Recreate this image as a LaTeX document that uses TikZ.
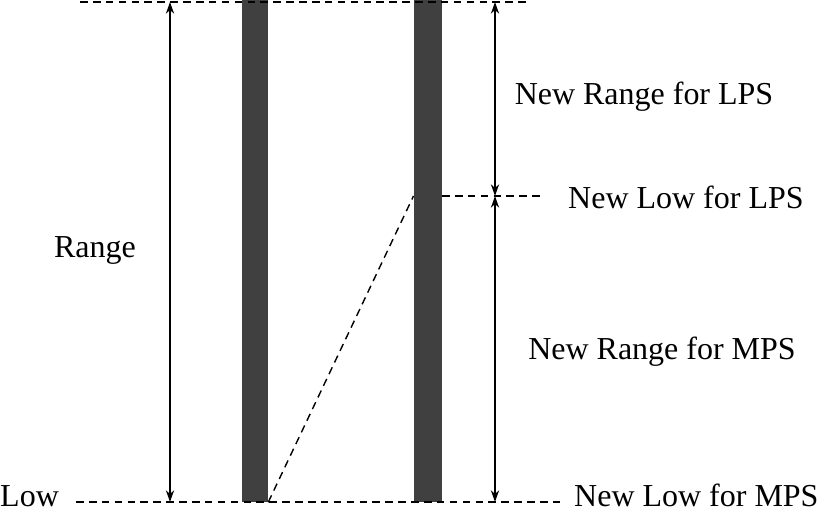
\documentclass[tikz,border=0pt]{standalone}
\usepackage{fontspec}
\setmainfont{Liberation Serif}
\usetikzlibrary{arrows.meta, positioning}

\begin{document}
\begin{tikzpicture}[
    x=0.03cm, y=-0.03cm,
    bar/.style={rectangle, draw=none, fill=black!75, minimum height=15.06cm, inner sep=0pt},
    label/.style={inner sep=0pt, font=\fontsize{27.3}{30}\selectfont},
    guide/.style={dash pattern=on 6.5pt off 4.5pt, line width=1.5pt},
    arrow/.style={<->, line width=1.2pt, >={Stealth[length=10pt, width=7pt]}}
]
    \useasboundingbox (0,0) rectangle (827,512);

    % Bars
    \node[bar, minimum width=0.78cm] (lbar) at (255,251) {};
    \node[bar, minimum width=0.84cm] (rbar) at (427.5,251) {};

    % Guide points
    \coordinate (topl) at (80,2);
    \coordinate (topr) at (530,2);
    \coordinate (lowl) at (76,502);
    \coordinate (lowr) at (560,502);
    \coordinate (lpsl) at (442,196);
    \coordinate (lpsr) at (542,196);
    \coordinate (rngt) at (170,2);
    \coordinate (rngb) at (170,502);
    \coordinate (newt) at (495,2);
    \coordinate (newm) at (495,196);
    \coordinate (newb) at (495,502);
    \coordinate (diag) at (413.5,196);

    % Labels
    \node[label, anchor=west] (low) at (0,496) {Low};
    \node[label] (range) at (95,250) {Range};
    \node[label] (nrlps) at (644,97) {New Range for LPS};
    \node[label, anchor=west] (nllps) at (568,197) {New Low for LPS};
    \node[label] (nrmps) at (662,352) {New Range for MPS};
    \node[label, anchor=west] (nlmps) at (574,495) {New Low for MPS};

    % Dashed lines
    \draw[guide] (topl) -- (topr);
    \draw[guide] (lowl) -- (lowr);
    \draw[guide] (lpsl) -- (lpsr);
    \draw[guide, line width=1.2pt] (lbar.south east) -- (diag);

    % Arrows
    \draw[arrow] (rngb) -- (rngt);
    \draw[arrow] (newm) -- (newt);
    \draw[arrow] (newb) -- (newm);
\end{tikzpicture}
\end{document}
